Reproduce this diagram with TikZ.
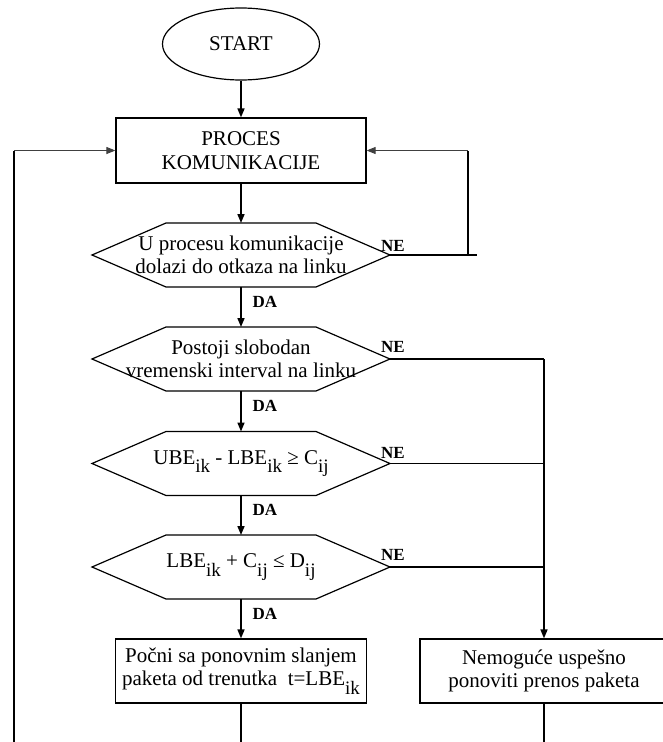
\documentclass[tikz,border=0pt]{standalone}
\usepackage{fontspec}
\setmainfont{Liberation Serif}
\usetikzlibrary{shapes.geometric,arrows.meta,calc}
\newcommand\sbs[1]{\raisebox{-8.5pt}{\fontsize{19}{19}\selectfont #1}}
\begin{document}
\begin{tikzpicture}[x=1pt,y=-1pt,
  every node/.style={font=\fontsize{21}{23.5}\selectfont, align=center, inner sep=0pt},
  shp/.style={draw, line width=1.2pt},
  hexn/.style={minimum width=298pt, minimum height=64pt, outer sep=0pt},
  lbl/.style={font=\fontsize{17}{17}\selectfont\bfseries},
  conn/.style={line width=1.6pt},
  thinconn/.style={line width=1pt, black!75},
  arr/.style={conn, -{Triangle[length=9pt,width=7pt]}},
  thinarr/.style={thinconn, -{Triangle[length=9pt,width=7pt]}}
]
\useasboundingbox (0,0) rectangle (662,742);
% nodes
\node[shp, ellipse, minimum width=157pt, minimum height=72pt] (start) at (241,44) {START};
\node[shp, minimum width=250pt, minimum height=65pt] (proc) at (241,150.5) {PROCES\\KOMUNIKACIJE};
\node[hexn] (h1) at (241,255) {U procesu komunikacije\\dolazi do otkaza na linku};
\node[hexn] (h2) at (241,359) {Postoji slobodan\\vremenski interval na linku};
\node[hexn] (h3) at (241,463.5) {UBE\sbs{ik} - LBE\sbs{ik} ≥ C\sbs{ij}};
\node[hexn] (h4) at (241,567) {LBE\sbs{ik} + C\sbs{ij} ≤ D\sbs{ij}};
\node[shp, minimum width=251pt, minimum height=64pt] (b1) at (241,671) {Počni sa ponovnim slanjem\\paketa od trenutka\ \ t=LBE\sbs{ik}};
\node[shp, minimum width=248pt, minimum height=64pt] (b2) at (544,671) {Nemoguće uspešno\\ponoviti prenos paketa};
% hexagon outlines
\foreach \h in {h1,h2,h3,h4}
  \draw[shp] (\h.west) -- ([xshift=74pt]\h.north west) -- ([xshift=-74pt]\h.north east) -- (\h.east)
    -- ([xshift=-74pt]\h.south east) -- ([xshift=74pt]\h.south west) -- cycle;
% main flow
\draw[arr] (start) -- (proc);
\draw[arr] (proc) -- (h1);
\draw[arr] (h1) -- (h2);
\draw[arr] (h2) -- (h3);
\draw[arr] (h3) -- (h4);
\draw[arr] (h4) -- (b1);
% DA labels
\node[lbl] (da1) at ($(h1.south)!0.5!(h2.north)+(24,-5)$) {DA};
\node[lbl] (da2) at ($(h2.south)!0.5!(h3.north)+(24,-5)$) {DA};
\node[lbl] (da3) at ($(h3.south)!0.5!(h4.north)+(24,-5)$) {DA};
\node[lbl] (da4) at ($(h4.south)!0.5!(b1.north)+(24,-5)$) {DA};
% NE labels
\node[lbl] (ne1) at ($(h1.east)+(3,-9)$) {NE};
\node[lbl] (ne2) at ($(h2.east)+(3,-12)$) {NE};
\node[lbl] (ne3) at ($(h3.east)+(3,-11)$) {NE};
\node[lbl] (ne4) at ($(h4.east)+(3,-12)$) {NE};
% feedback loop from h1
\coordinate (fbx) at (468,255);
\coordinate (fbend) at (477,255);
\draw[conn] (h1.east) -- (fbend);
\draw[conn] (fbx) -- (fbx |- proc.east);
\draw[thinarr] (fbx |- proc.east) -- (proc.east);
% left return line
\coordinate (lft) at (14,742);
\draw[conn] (lft) -- (lft |- proc.west);
\draw[thinarr] (lft |- proc.west) -- (proc.west);
% collector on the right
\coordinate (cx) at (544,359);
\draw[conn] (h2.east) -- (cx);
\draw[conn] (h3.east) -- (h3.east -| cx);
\draw[conn] (h4.east) -- (h4.east -| cx);
\draw[arr] (cx) -- (b2.north);
% bottom exits
\draw[conn] (b1.south) -- (b1.south |- lft);
\draw[conn] (b2.south) -- (b2.south |- lft);
\end{tikzpicture}
\end{document}
